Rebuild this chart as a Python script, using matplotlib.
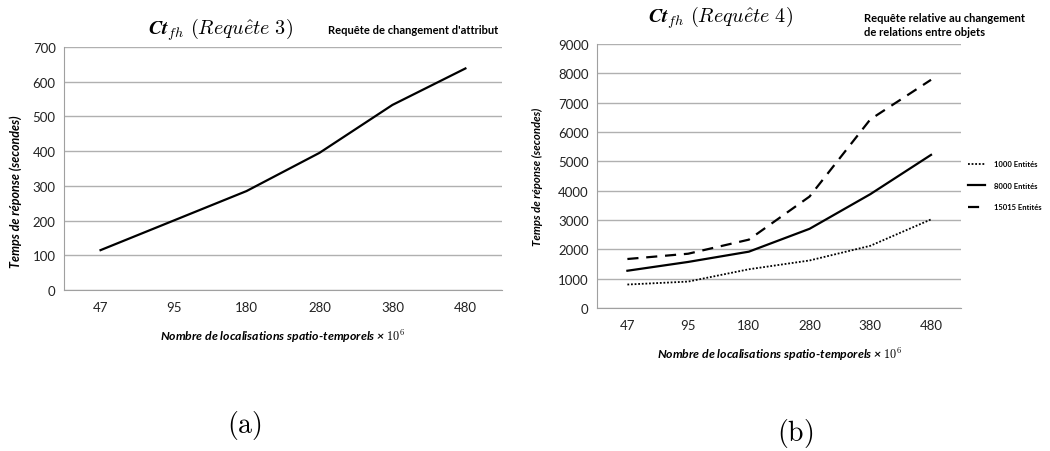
import matplotlib.pyplot as plt

# Data
categories = ["47", "95", "180", "280", "380", "480"]
req3_times = [115, 200, 285, 395, 533, 638]
req4_1000 = [800, 900, 1320, 1620, 2120, 3020]
req4_8000 = [1270, 1570, 1920, 2700, 3880, 5220]
req4_15015 = [1670, 1850, 2330, 3800, 6430, 7780]

plt.rcParams["font.family"] = ["Lato", "DejaVu Sans"]
plt.rcParams["mathtext.fontset"] = "cm"

fig = plt.figure(figsize=(10.5, 4.52), dpi=100)
ax_a = fig.add_axes([0.061, 0.356, 0.417, 0.538])
ax_b = fig.add_axes([0.5686, 0.3164, 0.347, 0.584])

xlabel = "Nombre de localisations spatio-temporels × $\\mathbf{10^6}$"
ylabel = "Temps de réponse (secondes)"


def style_axes(ax, ymax, step, label_size):
    x = range(len(categories))
    ax.set_xlim(-0.5, len(categories) - 0.5)
    ax.set_ylim(0, ymax)
    ax.set_yticks(range(0, ymax + 1, step))
    ax.set_xticks(list(x))
    ax.set_xticklabels(categories)
    ax.tick_params(length=0, labelsize=9.5, colors="#222222")
    ax.tick_params(axis="x", pad=8)
    ax.tick_params(axis="y", pad=6)
    ax.grid(axis="y", color="#b0b0b0", linewidth=1)
    ax.set_axisbelow(True)
    for side in ["top", "right"]:
        ax.spines[side].set_visible(False)
    for side in ["left", "bottom"]:
        ax.spines[side].set_color("#a0a0a0")
    ax.set_xlabel(xlabel, fontsize=8.8, fontweight="bold", fontstyle="italic", labelpad=10)
    ax.set_ylabel(ylabel, fontsize=label_size, fontweight="bold", fontstyle="italic")


# (a)
x = range(len(categories))
ax_a.plot(x, req3_times, color="black", linewidth=1.6)
style_axes(ax_a, 700, 100, 9)
ax_a.yaxis.set_label_coords(-0.097, 0.41)
fig.text(0.21, 0.935, "$\\mathbfit{Ct}_{fh}\\ (Requ\\hat{e}te\\ 3)$", fontsize=14.5, ha="center", va="center")
fig.text(0.312, 0.933, "Requête de changement d'attribut", fontsize=8, fontweight="bold", ha="left", va="center")
fig.text(0.233, 0.058, "$\\mathrm{(a)}$", fontsize=20, ha="center", va="center")

# (b)
ax_b.plot(x, req4_1000, color="black", linewidth=1.3, linestyle=(0, (1, 1)), label="1000 Entités")
ax_b.plot(x, req4_8000, color="black", linewidth=1.6, label="8000 Entités")
ax_b.plot(x, req4_15015, color="black", linewidth=1.6, linestyle=(0, (5, 3.5)), label="15015 Entités")
style_axes(ax_b, 9000, 1000, 8.2)
ax_b.yaxis.set_label_coords(-0.148, 0.5)
fig.text(0.686, 0.96, "$\\mathbfit{Ct}_{fh}\\ (Requ\\hat{e}te\\ 4)$", fontsize=14.5, ha="center", va="center")
fig.text(0.823, 0.944, "Requête relative au changement\nde relations entre objets",
         fontsize=8, fontweight="bold", ha="left", va="center", linespacing=1.4)
ax_b.legend(loc="center left", bbox_to_anchor=(1.0, 0.465), frameon=False,
            handlelength=2.2, handletextpad=1.2, labelspacing=1.9, prop={"weight": "bold", "size": 5.5})
fig.text(0.757, 0.042, "$\\mathrm{(b)}$", fontsize=20, ha="center", va="center")

plt.savefig("out.png", dpi=100)
